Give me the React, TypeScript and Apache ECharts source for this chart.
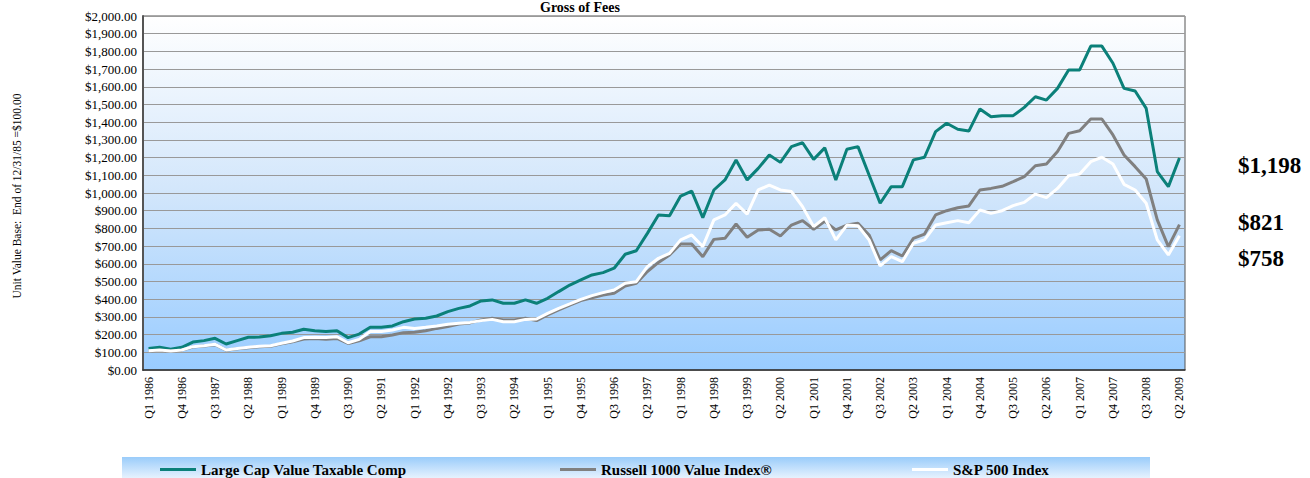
import React, { useEffect, useRef } from "react";
import * as echarts from "echarts";

const START_YEAR = 1986;
const QUARTER_COUNT = 94;
const categories: string[] = [];
for (let i = 0; i < QUARTER_COUNT; i++) {
  categories.push(`Q${(i % 4) + 1} ${START_YEAR + Math.floor(i / 4)}`);
}

const seriesNames = ["Large Cap Value Taxable Comp", "Russell 1000 Value Index®", "S&P 500 Index"];

const largeCapValue = [
  122, 128, 117, 128, 158, 166, 179, 147, 166, 185, 186, 194, 207, 213, 230, 222, 217, 222, 183, 203,
  242, 241, 249, 273, 288, 292, 305, 330, 348, 362, 390, 396, 377, 377, 396, 377, 405, 443, 480, 509,
  537, 550, 575, 654, 674, 772, 876, 872, 983, 1011, 861, 1017, 1074, 1187, 1074, 1139, 1215, 1173, 1262, 1284,
  1190, 1255, 1074, 1247, 1262, 1102, 942, 1036, 1036, 1187, 1202, 1347, 1394, 1360, 1350, 1475, 1431, 1437, 1437, 1484,
  1544, 1525, 1591, 1695, 1695, 1830, 1830, 1733, 1591, 1576, 1478, 1121, 1036, 1198,
];

const russell1000Value = [
  108, 112, 107, 112, 130, 135, 143, 112, 120, 126, 131, 134, 148, 160, 175, 178, 174, 178, 150, 165,
  188, 188, 198, 211, 213, 222, 235, 245, 260, 266, 283, 292, 283, 283, 292, 279, 311, 339, 367, 392,
  408, 424, 433, 475, 490, 556, 608, 650, 712, 712, 640, 738, 744, 825, 750, 791, 795, 757, 819, 844,
  795, 840, 791, 819, 829, 763, 622, 674, 644, 744, 768, 876, 900, 917, 927, 1017, 1026, 1038, 1064, 1092,
  1154, 1164, 1234, 1337, 1352, 1418, 1418, 1328, 1215, 1149, 1079, 848, 697, 821,
];

const sp500 = [
  109, 113, 107, 113, 132, 137, 145, 113, 122, 128, 134, 137, 151, 164, 183, 185, 183, 188, 154, 173,
  217, 217, 226, 241, 235, 241, 249, 258, 264, 269, 279, 286, 273, 273, 286, 288, 320, 348, 373, 399,
  420, 437, 452, 490, 499, 584, 631, 659, 735, 763, 697, 848, 876, 942, 881, 1017, 1045, 1017, 1008, 923,
  810, 860, 735, 819, 815, 735, 588, 640, 612, 716, 735, 819, 832, 844, 832, 904, 885, 900, 929, 947,
  994, 974, 1026, 1098, 1107, 1177, 1202, 1164, 1049, 1017, 942, 735, 650, 758,
];

const endLabels = ["$1,198", "$821", "$758"];
const seriesColors = ["#0B8079", "#808080", "#FFFFFF"];

const SERIF = "'Times New Roman', 'Liberation Serif', 'DejaVu Serif', serif";

export default function App() {
  const ref = useRef<HTMLDivElement>(null);
  useEffect(() => {
    if (!ref.current) return;
    const chart = echarts.init(ref.current, undefined, { renderer: "svg" });
    const data = [largeCapValue, russell1000Value, sp500];
    const legendLefts = [160, 560, 912];
    chart.setOption({
      animation: false,
      backgroundColor: "#FFFFFF",
      textStyle: { fontFamily: SERIF },
      grid: {
        left: 143,
        top: 16,
        right: 125,
        bottom: 108,
        show: true,
        borderColor: "#555555",
        borderWidth: 1,
        backgroundColor: {
          type: "linear",
          x: 0,
          y: 0,
          x2: 0,
          y2: 1,
          colorStops: [
            { offset: 0, color: "#FFFFFF" },
            { offset: 0.5, color: "#D2E6FB" },
            { offset: 1, color: "#99CCFF" },
          ],
        },
      },
      xAxis: {
        type: "category",
        data: categories,
        boundaryGap: true,
        axisLine: { lineStyle: { color: "#333333", width: 1.5 } },
        axisTick: { interval: 2, length: 4, lineStyle: { color: "#333333" } },
        axisLabel: {
          interval: 2,
          rotate: 90,
          fontSize: 12,
          color: "#000000",
          fontFamily: SERIF,
          margin: 7,
        },
        splitLine: { show: false },
      },
      yAxis: {
        type: "value",
        min: 0,
        max: 2000,
        interval: 100,
        axisLine: { show: true, lineStyle: { color: "#555555", width: 2 } },
        axisTick: { show: false },
        axisLabel: {
          fontSize: 13,
          color: "#000000",
          fontFamily: SERIF,
          margin: 6,
          formatter: (v: number) =>
            "$" + v.toLocaleString("en-US", { minimumFractionDigits: 2, maximumFractionDigits: 2 }),
        },
        splitLine: { lineStyle: { color: "#999999", width: 1.2 } },
      },
      legend: seriesNames.map((name, i) => ({
        data: [name],
        left: legendLefts[i],
        top: 462,
        icon: "rect",
        itemWidth: 36,
        itemHeight: 3,
        itemGap: 6,
        padding: 0,
        selectedMode: false,
        textStyle: { fontFamily: SERIF, fontSize: 15, fontWeight: "bold", color: "#000000" },
      })),
      series: seriesNames.map((name, i) => ({
        name,
        type: "line",
        data: data[i],
        showSymbol: false,
        symbol: "none",
        lineStyle: { color: seriesColors[i], width: 3 },
        itemStyle: { color: seriesColors[i] },
        z: 2 + i,
      })),
      graphic: [
        {
          type: "rect",
          z: -1,
          shape: { x: 122, y: 457, width: 1028, height: 21 },
          style: {
            fill: {
              type: "linear",
              x: 0,
              y: 0,
              x2: 0,
              y2: 1,
              colorStops: [
                { offset: 0, color: "#9ACCFA" },
                { offset: 1, color: "#E6F2FE" },
              ],
            },
          },
        },
        {
          type: "text",
          left: 540,
          top: 0,
          style: { text: "Gross of Fees", font: `bold 14px ${SERIF}`, fill: "#000000" },
        },
        {
          type: "text",
          x: 17,
          y: 196,
          rotation: Math.PI / 2,
          style: {
            text: "Unit Value Base:  End of 12/31/85 =$100.00",
            font: `11.5px ${SERIF}`,
            fill: "#000000",
            align: "center",
            verticalAlign: "middle",
          },
        },
        ...endLabels.map((t, i) => ({
          type: "text",
          x: 1238,
          y: [165, 222, 258][i],
          style: {
            text: t,
            font: `bold 23px ${SERIF}`,
            fill: "#000000",
            verticalAlign: "middle",
          },
        })),
      ],
    });
    return () => chart.dispose();
  }, []);
  return (
    <div
      ref={ref}
      style={{ position: "fixed", left: 0, top: 0, width: 1310, height: 478 }}
    />
  );
}
